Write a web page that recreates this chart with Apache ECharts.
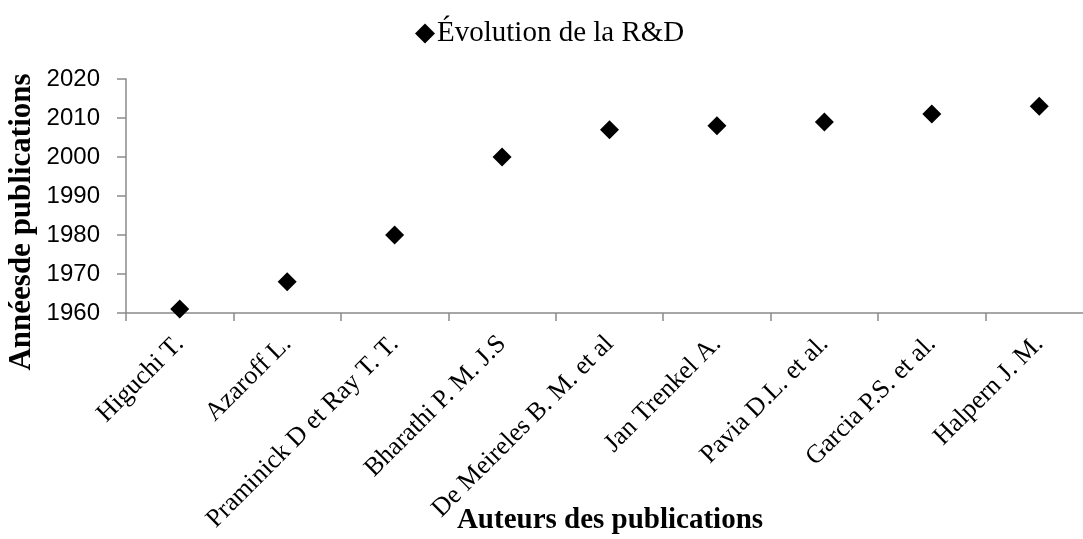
<!DOCTYPE html>
<html>
<head>
<meta charset="utf-8">
<script src="https://cdn.jsdelivr.net/npm/echarts@6/dist/echarts.min.js"></script>
<style>
  html, body { margin: 0; padding: 0; background: #ffffff; }
  #chart { width: 1083px; height: 539px; }
</style>
</head>
<body>
<div id="chart"></div>
<script>
// Authors (categories) and the year of each publication
const authors = [
  'Higuchi T.',
  'Azaroff L.',
  'Praminick D et Ray T. T.',
  'Bharathi P. M. J.S',
  'De Meireles B. M. et al',
  'Jan Trenkel A.',
  'Pavia D.L. et al.',
  'Garcia P.S. et al.',
  'Halpern J. M.'
];
const years = [1961, 1968, 1980, 2000, 2007, 2008, 2009, 2011, 2013];

const seriesName = 'Évolution de la R&D';
const xTitle = 'Auteurs des publications';
const yTitle = 'Annéesde publications';

const serif = '"Liberation Serif", "Times New Roman", serif';
const sans = '"Liberation Sans", Arial, sans-serif';
const axisGrey = '#8a8a8a';

const chart = echarts.init(document.getElementById('chart'), null, { renderer: 'canvas' });

chart.setOption({
  animation: false,
  backgroundColor: '#ffffff',
  legend: {
    left: 410,
    top: 14,
    icon: 'diamond',
    itemWidth: 20,
    itemHeight: 20,
    data: [seriesName],
    itemStyle: { color: '#000000', opacity: 1 },
    textStyle: {
      fontFamily: serif,
      fontSize: 29,
      color: '#000000',
      padding: [0, 0, 0, -3]
    }
  },
  grid: {
    left: 126,
    top: 79,
    width: 967,
    height: 234,
    containLabel: false,
    outerBoundsMode: 'none'
  },
  xAxis: {
    type: 'category',
    data: authors,
    boundaryGap: true,
    axisLine: { lineStyle: { color: axisGrey, width: 1.5 } },
    axisTick: { show: true, length: 8, lineStyle: { color: axisGrey, width: 1.5 } },
    axisLabel: {
      rotate: 45,
      margin: 27,
      interval: 0,
      hideOverlap: false,
      fontFamily: serif,
      fontSize: 26,
      color: '#000000'
    },
    splitLine: { show: false }
  },
  yAxis: {
    type: 'value',
    min: 1960,
    max: 2020,
    interval: 10,
    axisLine: { show: true, lineStyle: { color: axisGrey, width: 1.5 } },
    axisTick: { show: true, length: 9, lineStyle: { color: axisGrey, width: 1.5 } },
    axisLabel: {
      margin: 26,
      formatter: (v) => String(v),
      fontFamily: sans,
      fontSize: 24,
      color: '#000000'
    },
    splitLine: { show: false }
  },
  graphic: [{
    // vertical axis title
    type: 'text',
    x: 22,
    y: 222,
    rotation: Math.PI / 2,
    style: {
      text: yTitle,
      fontFamily: serif,
      fontSize: 31,
      fontWeight: 'bold',
      fill: '#000000',
      align: 'center',
      verticalAlign: 'middle'
    }
  }, {
    // horizontal axis title
    type: 'text',
    x: 610,
    y: 535,
    style: {
      text: xTitle,
      fontFamily: serif,
      fontSize: 29,
      fontWeight: 'bold',
      fill: '#000000',
      align: 'center',
      verticalAlign: 'bottom'
    }
  }],
  series: [{
    name: seriesName,
    type: 'scatter',
    data: years,
    symbol: 'diamond',
    symbolSize: 19,
    itemStyle: { color: '#000000', opacity: 1 }
  }]
});
</script>
</body>
</html>
